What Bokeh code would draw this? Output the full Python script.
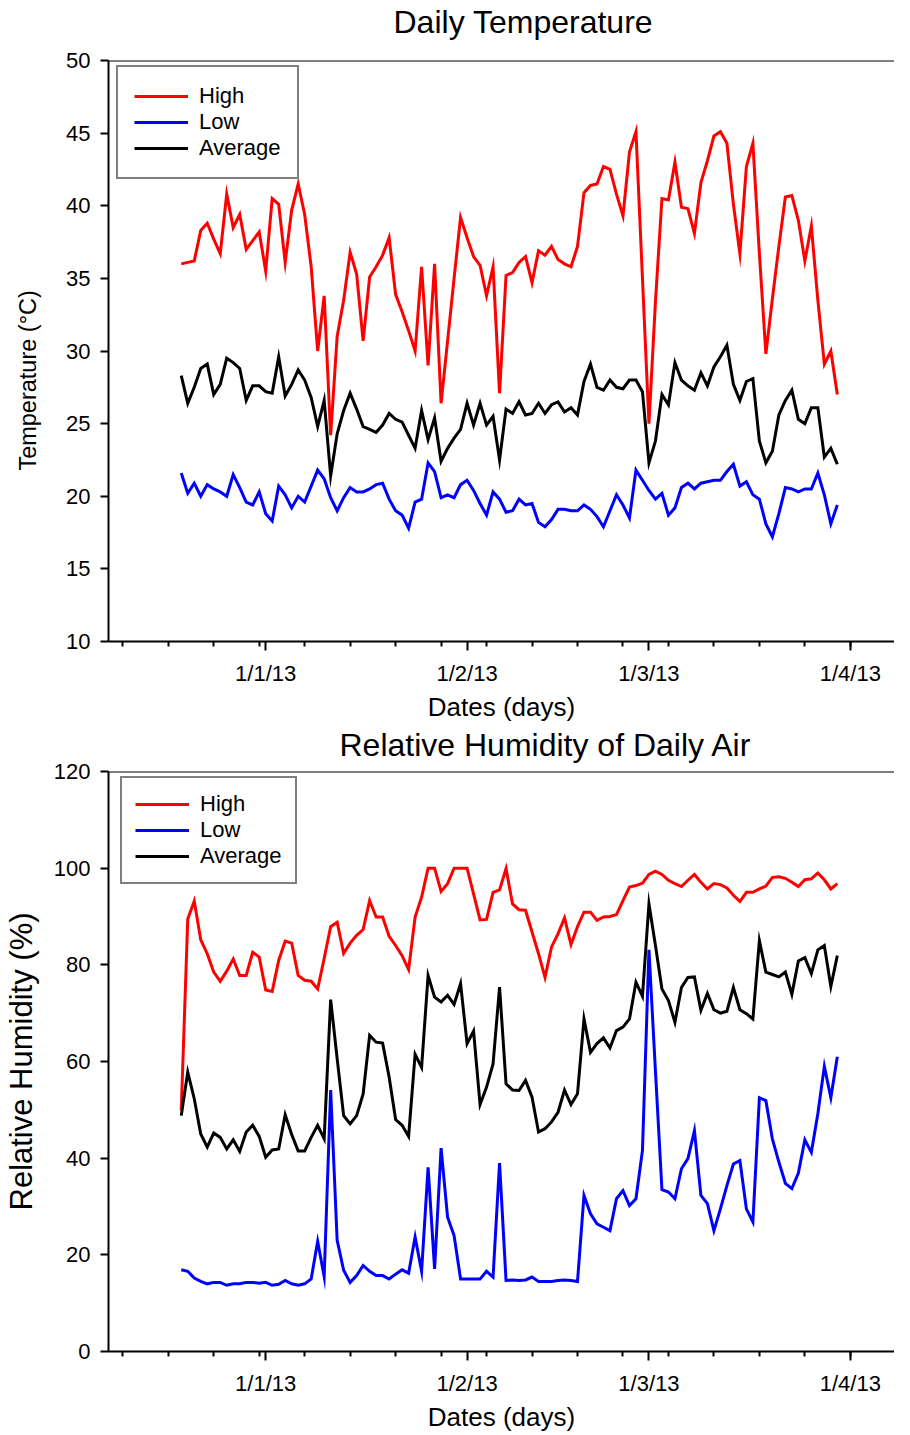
import pandas as pd
from bokeh.plotting import figure
from bokeh.layouts import column
from bokeh.models import (FixedTicker, Span, Legend, LegendItem, Title, Range1d)
from bokeh.embed import file_html
from bokeh.resources import INLINE

# ---------------- data ----------------
start_date = "2012-12-19"
n_days = 102
dates = pd.date_range(start_date, periods=n_days, freq="D")

temp_high = [36.0, 36.1, 36.2, 38.3, 38.8, 37.7, 36.7, 40.8, 38.5, 39.4,
             37.0, 37.6, 38.2, 35.5, 40.5, 40.1, 36.1, 39.7, 41.5, 39.4,
             35.8, 30.0, 33.8, 24.2, 31.0, 33.5, 36.8, 35.3, 30.7, 35.1,
             35.8, 36.6, 37.8, 33.9, 32.7, 31.4, 30.0, 35.8, 29.0, 36.0,
             26.4, 30.7, 35.0, 39.2, 37.8, 36.5, 35.9, 33.8, 35.8, 27.1,
             35.2, 35.4, 36.1, 36.5, 34.7, 36.9, 36.6, 37.2, 36.3, 36.0,
             35.8, 37.2, 40.9, 41.4, 41.5, 42.7, 42.5, 40.8, 39.3, 43.7,
             45.1, 35.0, 25.0, 33.4, 40.5, 40.4, 43.0, 39.9, 39.8, 38.1,
             41.6, 43.1, 44.8, 45.1, 44.3, 40.1, 36.7, 42.7, 44.3, 36.7,
             29.8, 33.6, 37.2, 40.6, 40.7, 39.0, 36.2, 38.6, 33.5, 29.1,
             30.0, 27.0]
temp_low = [21.6, 20.2, 20.9, 20.0, 20.8, 20.5, 20.3, 20.0, 21.5, 20.6,
            19.6, 19.4, 20.3, 18.8, 18.3, 20.7, 20.1, 19.2, 20.0, 19.6,
            20.7, 21.8, 21.2, 19.9, 19.0, 19.9, 20.6, 20.3, 20.3, 20.5,
            20.8, 20.9, 19.8, 19.0, 18.7, 17.8, 19.6, 19.8, 22.3, 21.7,
            19.9, 20.1, 19.9, 20.8, 21.1, 20.4, 19.5, 18.7, 20.3, 19.8,
            18.9, 19.0, 19.8, 19.4, 19.5, 18.2, 17.9, 18.4, 19.1, 19.1,
            19.0, 19.0, 19.4, 19.1, 18.6, 17.9, 19.0, 20.1, 19.4, 18.5,
            21.8, 21.1, 20.4, 19.8, 20.2, 18.7, 19.2, 20.6, 20.9, 20.5,
            20.9, 21.0, 21.1, 21.1, 21.7, 22.2, 20.7, 21.0, 20.1, 19.8,
            18.1, 17.2, 18.8, 20.6, 20.5, 20.3, 20.5, 20.5, 21.6, 20.1,
            18.1, 19.4]
temp_avg = [28.3, 26.4, 27.5, 28.8, 29.1, 27.0, 27.7, 29.5, 29.2, 28.8,
            26.6, 27.6, 27.6, 27.2, 27.1, 29.6, 26.9, 27.7, 28.7, 28.0,
            26.8, 24.8, 26.6, 21.4, 24.3, 25.9, 27.1, 26.0, 24.8, 24.6,
            24.4, 24.9, 25.7, 25.3, 25.1, 24.2, 23.3, 25.9, 23.9, 25.4,
            22.4, 23.3, 24.0, 24.6, 26.4, 24.9, 26.4, 24.9, 25.5, 22.5,
            26.0, 25.7, 26.5, 25.6, 25.7, 26.4, 25.7, 26.3, 26.5, 25.8,
            26.1, 25.6, 27.9, 29.1, 27.5, 27.3, 28.0, 27.5, 27.4, 28.0,
            28.0, 27.2, 22.3, 23.8, 27.0, 26.3, 29.2, 28.0, 27.6, 27.3,
            28.5, 27.6, 28.9, 29.6, 30.4, 27.7, 26.6, 27.9, 28.1, 23.8,
            22.3, 23.1, 25.6, 26.6, 27.3, 25.3, 25.0, 26.1, 26.1, 22.7,
            23.3, 22.2]

rh_high = [49.9, 89.5, 93.2, 85.2, 82.3, 78.5, 76.6, 78.7, 81.2, 77.8,
           77.8, 82.6, 81.6, 74.8, 74.5, 80.9, 84.9, 84.5, 77.8, 76.8,
           76.6, 75.0, 81.3, 87.9, 88.8, 82.4, 84.5, 86.1, 87.3, 93.3,
           89.9, 89.9, 85.9, 84.0, 81.9, 79.0, 89.9, 94.0, 100.0, 100.0,
           95.2, 96.8, 100.0, 100.0, 100.0, 94.7, 89.3, 89.4, 95.0, 95.5,
           99.9, 92.6, 91.4, 91.3, 86.8, 82.3, 77.4, 83.7, 86.4, 89.7,
           84.2, 87.9, 90.9, 90.9, 89.2, 89.9, 90.0, 90.4, 93.3, 96.1,
           96.4, 96.9, 98.7, 99.4, 98.7, 97.5, 96.8, 96.2, 97.5, 98.7,
           97.1, 95.7, 96.8, 96.6, 95.9, 94.4, 93.1, 95.0, 95.0, 95.7,
           96.3, 98.1, 98.2, 97.9, 97.1, 96.2, 97.6, 97.8, 99.0, 97.6,
           95.7, 96.8]
rh_low = [16.9, 16.6, 15.2, 14.5, 14.0, 14.3, 14.3, 13.7, 14.0, 14.0,
          14.3, 14.3, 14.1, 14.3, 13.7, 13.9, 14.7, 14.0, 13.7, 14.0,
          15.0, 22.8, 15.5, 54.1, 23.0, 16.8, 14.3, 15.7, 17.8, 16.6,
          15.7, 15.7, 15.0, 16.0, 16.9, 16.2, 23.7, 16.6, 38.1, 17.1,
          42.1, 27.8, 24.0, 15.0, 15.0, 15.0, 15.0, 16.6, 15.4, 39.0,
          14.7, 14.8, 14.7, 14.8, 15.4, 14.5, 14.5, 14.5, 14.7, 14.8,
          14.7, 14.5, 32.3, 28.5, 26.4, 25.7, 25.0, 31.6, 33.3, 30.2,
          31.6, 41.6, 83.1, 58.0, 33.5, 33.0, 31.6, 37.8, 39.9, 45.7,
          32.3, 30.6, 25.0, 29.5, 34.3, 38.8, 39.5, 29.5, 26.8, 52.5,
          51.9, 44.0, 39.2, 34.8, 33.7, 36.9, 43.8, 41.2, 49.2, 59.0,
          52.5, 61.0]
rh_avg = [48.8, 57.8, 52.3, 45.0, 42.3, 45.2, 44.3, 41.9, 43.8, 41.4,
          45.4, 46.8, 44.5, 40.2, 41.7, 41.9, 49.0, 44.9, 41.5, 41.5,
          44.3, 46.8, 44.0, 72.8, 60.6, 48.8, 47.1, 48.8, 53.3, 65.4,
          64.0, 63.8, 56.8, 48.0, 46.8, 44.5, 61.5, 58.8, 77.8, 73.3,
          72.3, 73.7, 71.8, 76.1, 63.7, 66.3, 51.1, 54.7, 59.5, 75.4,
          55.4, 54.1, 54.0, 56.1, 52.6, 45.4, 46.1, 47.5, 49.5, 54.1,
          51.1, 53.3, 68.8, 61.9, 63.7, 64.9, 62.8, 66.4, 67.1, 68.8,
          76.4, 73.5, 92.6, 84.0, 75.0, 72.6, 68.1, 75.3, 77.4, 77.5,
          70.6, 74.1, 70.7, 70.0, 70.4, 75.3, 70.7, 69.9, 68.8, 85.0,
          78.5, 78.0, 77.5, 78.5, 73.9, 80.8, 81.5, 78.2, 83.1, 84.0,
          75.5, 81.9]

series_names = ["High", "Low", "Average"]
series_colors = ["#FF0000", "#0000FF", "#000000"]

major_tick_dates = ["2013-01-01", "2013-02-01", "2013-03-01", "2013-04-01"]
major_tick_labels = ["1/1/13", "1/2/13", "1/3/13", "1/4/13"]
minor_tick_dates = list(pd.date_range("2012-12-10", "2013-04-08", freq="7D"))

temp_yticks = [10, 15, 20, 25, 30, 35, 40, 45, 50]
rh_yticks = [0, 20, 40, 60, 80, 100, 120]

# ---------------- helpers ----------------
def ms(t):
    return int(pd.Timestamp(t).value // 10**6)

x_start = pd.Timestamp("2013-01-01") - pd.Timedelta(days=24.2)
x_end = x_start + pd.Timedelta(days=121.0)

major_ms = [ms(d) for d in major_tick_dates]
minor_ms = [ms(d) for d in minor_tick_dates]

FONT = "Liberation Sans"
NBSP = "\u00a0"


def make_panel(height, border_top, border_bottom, frame_h, y_range, y_ticks,
               title, title_offset, spacer_standoff,
               y_label, y_label_size, y_label_standoff,
               series, legend_top_gap, legend_left, legend_h, legend_pad):
    p = figure(width=894, height=height, x_axis_type="datetime",
               x_range=Range1d(x_start, x_end), y_range=Range1d(*y_range),
               output_backend="svg", toolbar_location=None,
               min_border_left=99, min_border_right=0,
               min_border_top=border_top, min_border_bottom=border_bottom)
    # spacer between title and frame
    p.add_layout(Title(text=" ", text_font_size="4px", standoff=spacer_standoff), "above")
    p.title = Title(text=title, align="left", offset=title_offset,
                    text_font=FONT, text_font_size="32px",
                    text_font_style="normal", text_color="black", standoff=1)
    p.grid.visible = False
    p.outline_line_color = None
    p.background_fill_color = "white"
    p.border_fill_color = "white"

    xa = p.xaxis[0]
    xa.ticker = FixedTicker(ticks=major_ms, minor_ticks=minor_ms)
    xa.major_label_overrides = {k: v for k, v in zip(major_ms, major_tick_labels)}
    xa.axis_label = "Dates (days)"
    xa.axis_label_text_font = FONT
    xa.axis_label_text_font_size = "26px"
    xa.axis_label_text_font_style = "normal"
    xa.axis_label_text_color = "black"
    xa.axis_label_standoff = 3
    xa.major_label_text_font = FONT
    xa.major_label_text_font_size = "22px"
    xa.major_label_text_color = "black"
    xa.major_label_standoff = 10
    xa.axis_line_width = 2
    xa.major_tick_line_width = 2
    xa.minor_tick_line_width = 2
    xa.major_tick_in = 0
    xa.major_tick_out = 9
    xa.minor_tick_in = 0
    xa.minor_tick_out = 5

    ya = p.yaxis[0]
    ya.ticker = FixedTicker(ticks=y_ticks)
    ya.major_label_text_font = FONT
    ya.major_label_text_font_size = "22px"
    ya.major_label_text_color = "black"
    ya.major_label_standoff = 10
    ya.axis_line_width = 2
    ya.major_tick_line_width = 2
    ya.major_tick_in = 0
    ya.major_tick_out = 8
    ya.minor_tick_line_color = None
    ya.axis_label = y_label
    ya.axis_label_text_font = FONT
    ya.axis_label_text_font_size = y_label_size
    ya.axis_label_text_font_style = "normal"
    ya.axis_label_text_color = "black"
    ya.axis_label_standoff = y_label_standoff

    p.add_layout(Span(location=y_range[1], dimension="width",
                      line_color="black", line_width=2))

    items = []
    for name, color, vals in zip(series_names, series_colors, series):
        r = p.line(dates, vals, line_color=color, line_width=3, line_join="miter")
        items.append(LegendItem(label=name, renderers=[r]))
    legend = Legend(items=items,
                    location=(legend_left, frame_h - legend_top_gap - legend_h),
                    label_text_font=FONT, label_text_font_size="22px",
                    label_text_color="black",
                    label_height=26, glyph_height=26, glyph_width=54,
                    label_standoff=11, spacing=0, padding=legend_pad,
                    border_line_color="black", border_line_width=2,
                    background_fill_alpha=1.0, margin=0)
    p.add_layout(legend)
    return p


# the reference's temperature label sits below the frame centre; trailing
# no-break spaces shift the visible text down along the axis
p1 = make_panel(724, 60, 83, 581, (10, 50), temp_yticks,
                "Daily Temperature", 285, 13,
                "Temperature (°C)" + NBSP * 9, "23.5px", 22,
                [temp_high, temp_low, temp_avg], 6, 8, 113, 16)
p2 = make_panel(710, 47, 83, 580, (0, 120), rh_yticks,
                "Relative Humidity of Daily Air", 231, 1,
                "Relative Humidity (%)", "31px", 12,
                [rh_high, rh_low, rh_avg], 6, 12, 107, 13)

layout = column(p1, p2)
open("out.html", "w").write(file_html(layout, INLINE))
